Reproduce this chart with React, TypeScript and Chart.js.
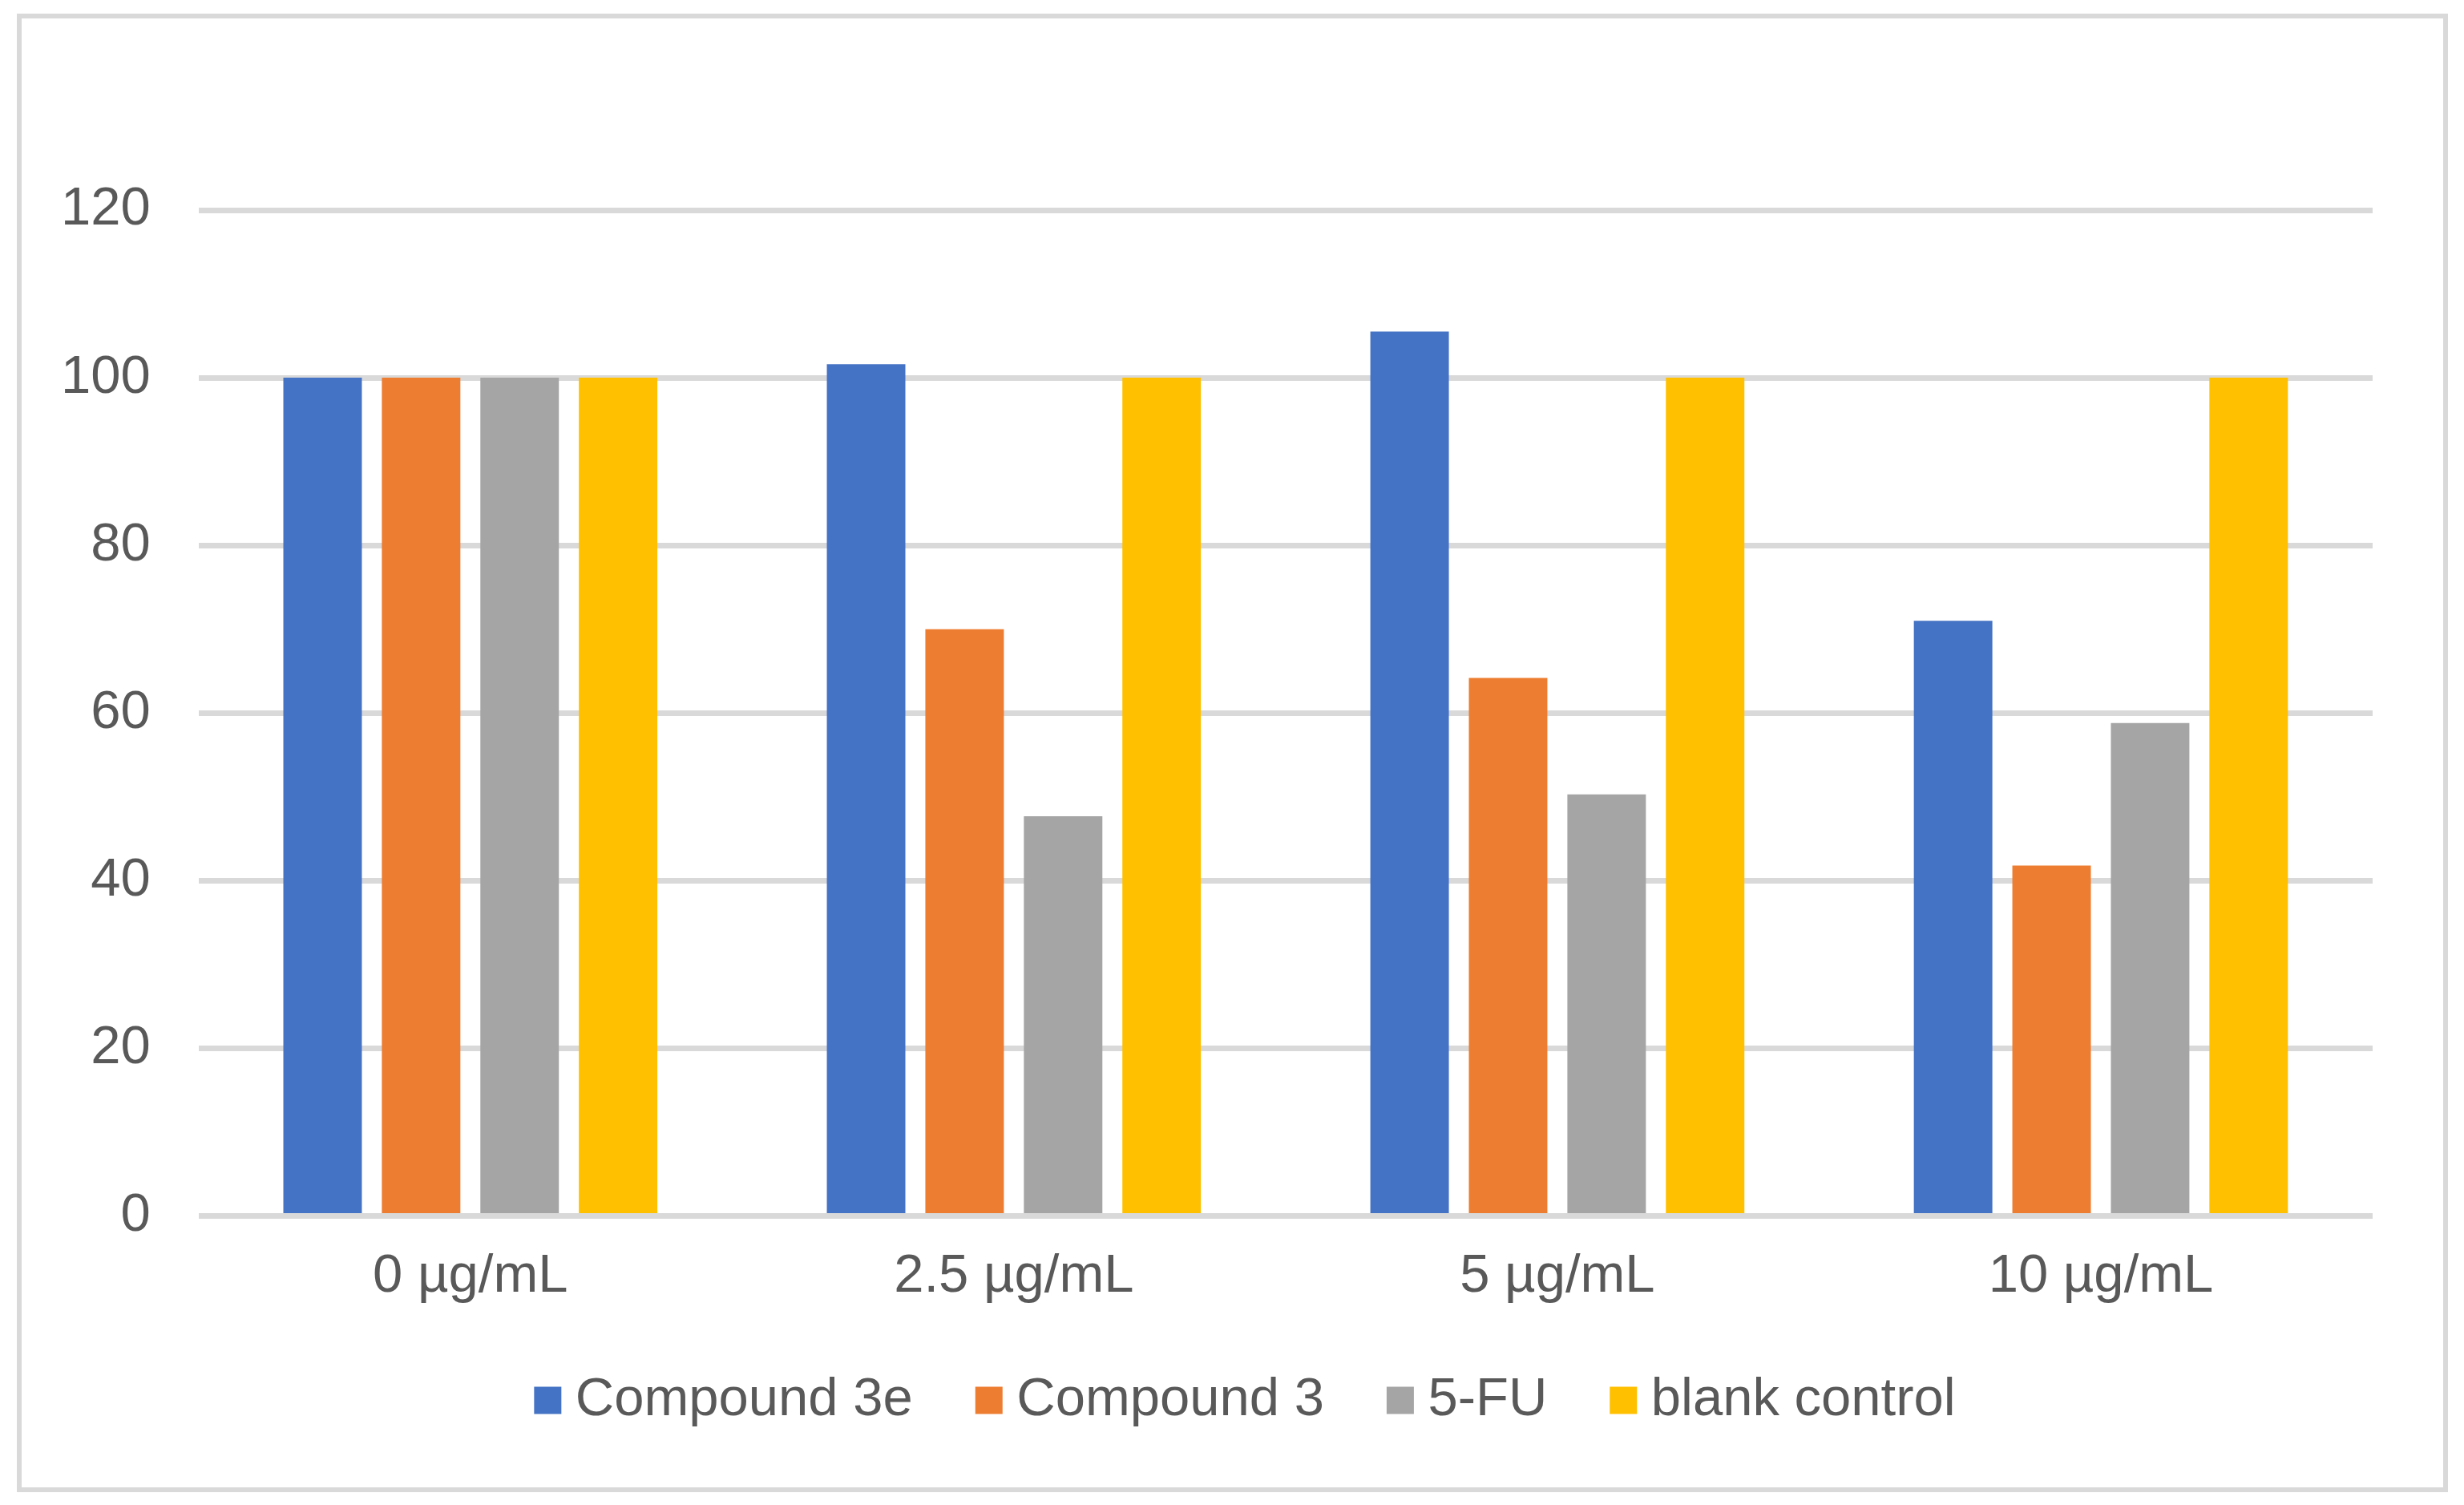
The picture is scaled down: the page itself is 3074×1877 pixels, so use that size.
import React, { useEffect, useRef } from "react";
import { Chart, registerables } from "chart.js";

Chart.register(...registerables);

const categories = ["0 µg/mL", "2.5 µg/mL", "5 µg/mL", "10 µg/mL"];
const seriesNames = ["Compound 3e", "Compound 3", "5-FU", "blank control"];
const compound3e = [100, 101.6, 105.5, 71.0];
const compound3 = [100, 70.0, 64.2, 41.8];
const fiveFU = [100, 47.7, 50.3, 58.8];
const blankControl = [100, 100, 100, 100];
const seriesColors = ["#4472C4", "#ED7D31", "#A5A5A5", "#FFC000"];
const yTicks = { min: 0, max: 120, step: 20 };

const TEXT = "#595959";
const GRID = "#D9D9D9";
const FONT = "'Liberation Sans', Arial, sans-serif";

const borderPlugin = {
  id: "outerBorder",
  afterDraw(chart: any) {
    const ctx = chart.ctx;
    ctx.save();
    ctx.strokeStyle = GRID;
    ctx.lineWidth = 6;
    ctx.strokeRect(24, 20, 3051 - 24, 1858 - 20);
    ctx.restore();
  },
};

// nudge the legend box to the position used by the original
const legendShift = {
  id: "legendShift",
  afterLayout(chart: any) {
    const lg = chart.legend;
    if (!lg) return;
    const dx = 73;
    const dy = -42;
    lg.left += dx;
    lg.right += dx;
    lg.top += dy;
    lg.bottom += dy;
  },
};

export default function App() {
  const ref = useRef<HTMLCanvasElement | null>(null);
  useEffect(() => {
    if (!ref.current) return;
    const values = [compound3e, compound3, fiveFU, blankControl];
    const chart = new Chart(ref.current, {
      type: "bar",
      data: {
        labels: categories,
        datasets: seriesNames.map((name, i) => ({
          label: name,
          data: values[i],
          backgroundColor: seriesColors[i],
          borderWidth: 0,
          categoryPercentage: 0.725,
          barPercentage: 0.797,
        })),
      },
      options: {
        animation: false,
        responsive: true,
        maintainAspectRatio: false,
        devicePixelRatio: 1,
        layout: { padding: { top: 262, left: 16, right: 114, bottom: 45 } },
        plugins: {
          tooltip: { enabled: false },
          title: { display: false },
          legend: {
            display: true,
            position: "bottom",
            labels: {
              color: TEXT,
              font: { family: FONT, size: 67 },
              usePointStyle: true,
              pointStyle: "rect",
              boxWidth: 2,
              boxHeight: 34,
              padding: 94,
            },
          },
        },
        scales: {
          x: {
            grid: { display: false },
            border: { display: false },
            ticks: {
              color: TEXT,
              font: { family: FONT, size: 67 },
              padding: 28,
              maxRotation: 0,
            },
          },
          y: {
            min: yTicks.min,
            max: yTicks.max,
            grid: { color: GRID, lineWidth: 7, drawTicks: false },
            border: { display: false },
            ticks: {
              stepSize: yTicks.step,
              color: TEXT,
              font: { family: FONT, size: 67 },
              padding: 60,
            },
          },
        },
      },
      plugins: [borderPlugin, legendShift],
    });
    return () => chart.destroy();
  }, []);
  return (
    <div style={{ position: "absolute", left: 0, top: 0, width: 3074, height: 1877, background: "#fff" }}>
      <canvas ref={ref} />
    </div>
  );
}
